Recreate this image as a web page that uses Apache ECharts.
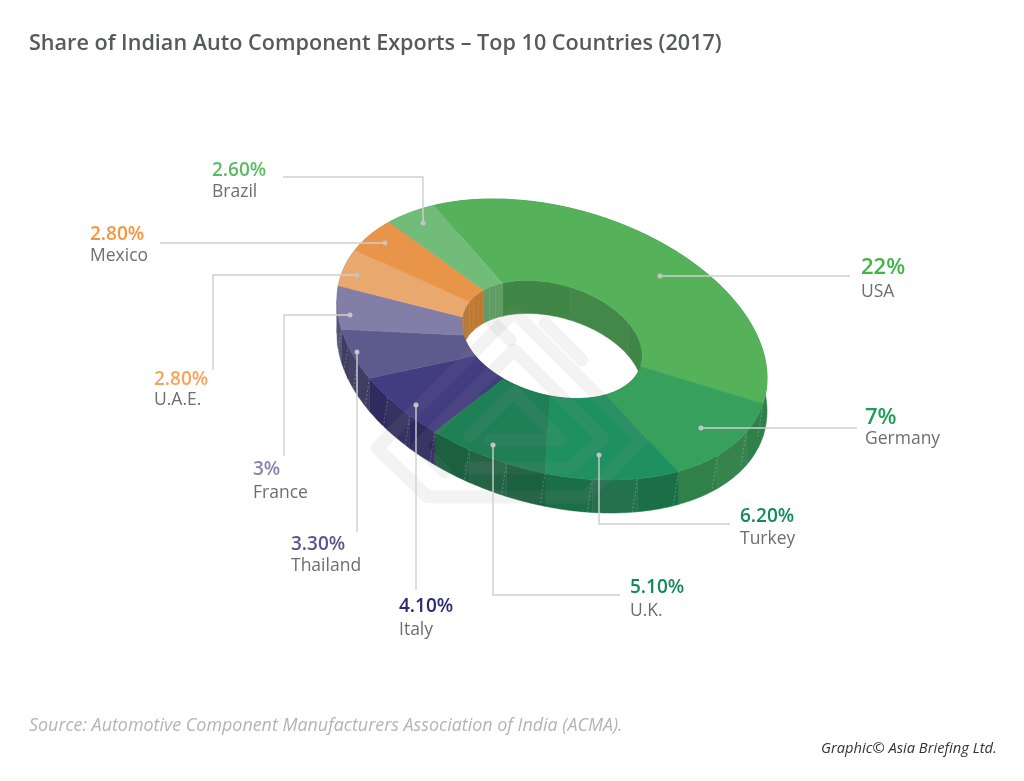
<!DOCTYPE html>
<html>
<head>
<meta charset="utf-8">
<style>
  html, body { margin: 0; padding: 0; background: #fff; }
  #chart { width: 1024px; height: 781px; }
</style>
<script src="https://cdn.jsdelivr.net/npm/echarts@6/dist/echarts.min.js"></script>
</head>
<body>
<div id="chart"></div>
<script>
// data, clockwise from the USA slice
const countries = ['USA', 'Germany', 'Turkey', 'U.K.', 'Italy', 'Thailand', 'France', 'U.A.E.', 'Mexico', 'Brazil'];
const shares = [22, 7, 6.2, 5.1, 4.1, 3.3, 3, 2.8, 2.8, 2.6];
const shareLabels = ['22%', '7%', '6.20%', '5.10%', '4.10%', '3.30%', '3%', '2.80%', '2.80%', '2.60%'];

// colours
const topColors = ['#55b25a', '#36a05c', '#1f9160', '#1f7f55', '#423c80', '#5d5a8e', '#827ea8', '#e8a86e', '#e8954a', '#70bc78'];
const wallColors = ['#2f7e47', '#2f7e47', '#1b6c45', '#1b5e3e', '#2e2a5c', '#3f3c60', '#565372', '#a97038', '#b9752f', '#5f9a62'];
const innerColors = ['#408546', '#408546', '#1b6c45', '#1b5e3e', '#2e2a5c', '#3f3c60', '#6b678f', '#b5793a', '#bd7830', '#5f9a62'];
const valueColors = ['#3fb54a', '#1f9e55', '#128a5a', '#128a5a', '#2e2a72', '#5a558f', '#8784b0', '#f9a35a', '#f7943d', '#5dbb63'];

// ring geometry (pixels)
const cx = 552, cy = 339.5;
const outerA = 220.5, outerB = 131.8;
const holeScale = 0.42;
const tilt = 16 * Math.PI / 180;
const depth = 33;
const startT = 227;

// leader lines: dot first, then elbows; label = left, value y, name y, value size, name size
const leaders = [
  [[660, 276], [850, 276]],
  [[701, 428], [857, 428]],
  [[599, 455], [599, 524], [730, 524]],
  [[493, 445], [493, 595], [620, 595]],
  [[416, 405], [416, 590]],
  [[357, 352], [357, 532]],
  [[350, 315], [284, 315], [284, 456]],
  [[357, 275], [213, 275], [213, 370]],
  [[385, 243], [160, 243]],
  [[423, 223], [423, 177], [283, 177]]
];
const labelPos = [
  [861, 268, 292, 22, 17.5],
  [865, 418, 439, 22, 17.5],
  [740, 517, 539, 19, 17.5],
  [630, 588, 611, 19, 17.5],
  [399, 607, 630, 19, 17.5],
  [291, 545, 566, 19, 17.5],
  [253, 470, 493, 19, 17.5],
  [154, 380, 400, 19, 17.5],
  [90, 235, 256, 19, 17.5],
  [212, 171, 192, 19, 17.5]
];
// faint logo behind the ring
const logoStrokes = [
  [[432, 497], [585, 497], [642, 440], [514, 312], [377, 448], [428, 497]],
  [[470, 468], [570, 468], [603, 438], [514, 350], [418, 446], [445, 472]],
  [[490, 440], [560, 440], [514, 392], [470, 436]],
  [[545, 323], [582, 360]],
  [[492, 322], [510, 340]]
];

const total = shares.reduce((a, b) => a + b, 0);
const startOf = [];
shares.reduce((t, v, i) => { startOf[i] = t; return t + v / total * 360; }, startT);

// point on the tilted ellipse, t in degrees, k = radius scale, dy = drop
function pt(t, k, dy) {
  const r = t * Math.PI / 180;
  const x = outerA * k * Math.cos(r), y = outerB * k * Math.sin(r);
  return [cx + x * Math.cos(tilt) - y * Math.sin(tilt), cy + x * Math.sin(tilt) + y * Math.cos(tilt) + (dy || 0)];
}
function arc(t0, t1, k, dy) {
  const pts = [], n = Math.max(2, Math.ceil(Math.abs(t1 - t0)));
  for (let i = 0; i <= n; i++) pts.push(pt(t0 + (t1 - t0) * i / n, k, dy));
  return pts;
}

function renderWall(params, api) {
  const i = api.value(0), t0 = startOf[i], t1 = t0 + api.value(1) / total * 360;
  const children = [];
  const facets = 3;
  for (let f = 0; f < facets; f++) {
    const a = t0 + (t1 - t0) * f / facets, b = t0 + (t1 - t0) * (f + 1) / facets;
    const outerCol = echarts.color.lift(wallColors[i], f % 2 ? 0.04 : -0.03);
    const innerCol = echarts.color.lift(innerColors[i], f % 2 ? 0.02 : -0.015);
    children.push({
      type: 'polygon',
      shape: { points: arc(a, b, 1, 0).concat(arc(b, a, 1, depth)) },
      style: { fill: outerCol, stroke: outerCol, lineWidth: 0.5 }
    });
    children.push({
      type: 'polygon',
      shape: { points: arc(a, b, holeScale, 0).concat(arc(b, a, holeScale, depth)) },
      style: { fill: innerCol, stroke: innerCol, lineWidth: 0.5 }
    });
    // thin dashed seam between wall facets
    children.push({
      type: 'line',
      shape: { x1: pt(a, 1)[0], y1: pt(a, 1)[1], x2: pt(a, 1, depth)[0] - 5, y2: pt(a, 1, depth)[1] },
      style: { stroke: 'rgba(255,255,255,0.35)', lineWidth: 0.7, lineDash: [2, 2] }
    });
  }
  return { type: 'group', children: children };
}

function renderTop(params, api) {
  const i = api.value(0), t0 = startOf[i], t1 = t0 + api.value(1) / total * 360;
  return {
    type: 'polygon',
    shape: { points: arc(t0, t1, 1).concat(arc(t1, t0, holeScale)) },
    style: { fill: topColors[i], stroke: topColors[i], lineWidth: 0.5 }
  };
}

function renderLeader(params, api) {
  const i = api.value(0), line = leaders[i], pos = labelPos[i];
  return {
    type: 'group',
    children: [
      {
        type: 'polyline',
        shape: { points: line },
        style: { stroke: '#cfcfd1', lineWidth: 1.4, fill: null }
      },
      {
        type: 'circle',
        shape: { cx: line[0][0], cy: line[0][1], r: 2.5 },
        style: { fill: '#c4c4c8' }
      },
      {
        type: 'text',
        style: {
          x: pos[0], y: pos[1], text: shareLabels[i], fill: valueColors[i],
          font: '600 ' + pos[3] + 'px "Open Sans"', verticalAlign: 'middle'
        }
      },
      {
        type: 'text',
        style: {
          x: pos[0], y: pos[2], text: countries[i], fill: '#6d6e71',
          font: pos[4] + 'px "Open Sans"', verticalAlign: 'middle'
        }
      }
    ]
  };
}

const chart = echarts.init(document.getElementById('chart'), null, { renderer: 'canvas' });
const rows = countries.map((c, i) => [i, shares[i]]);

chart.setOption({
  backgroundColor: '#fff',
  animation: false,
  title: [
    {
      text: 'Share of Indian Auto Component Exports – Top 10 Countries (2017)',
      left: 24, top: 28,
      textStyle: { fontFamily: 'Open Sans', fontSize: 21.6, fontWeight: 600, color: '#58595b' }
    }
  ],
  graphic: {
    elements: logoStrokes.map(s => ({
      type: 'polyline',
      z: 4,
      silent: true,
      shape: { points: s },
      style: { stroke: 'rgba(150,150,150,0.11)', lineWidth: 13, fill: null, lineJoin: 'round', lineCap: 'round' }
    })).concat([
      {
        type: 'text', left: 29, top: 717, z: 6,
        style: { text: 'Source: Automotive Component Manufacturers Association of India (ACMA).', fill: '#b4b4b6', font: 'italic 17.9px "Open Sans"' }
      },
      {
        type: 'text', left: 821, top: 741, z: 6,
        style: { text: 'Graphic© Asia Briefing Ltd.', fill: '#333333', font: 'italic 14.7px "Open Sans"' }
      }
    ])
  },
  series: [
    { type: 'custom', name: 'wall', coordinateSystem: 'none', z: 2, renderItem: renderWall, data: rows, silent: true },
    { type: 'custom', name: 'top', coordinateSystem: 'none', z: 3, renderItem: renderTop, data: rows, silent: true },
    { type: 'custom', name: 'leader', coordinateSystem: 'none', z: 5, renderItem: renderLeader, data: rows, silent: true }
  ]
});
</script>
</body>
</html>
